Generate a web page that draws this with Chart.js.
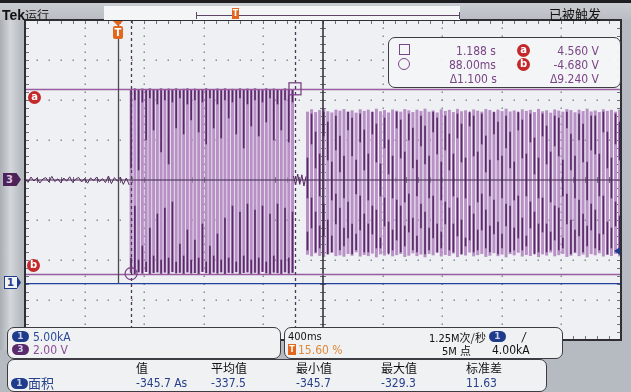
<!DOCTYPE html>
<html>
<head>
<meta charset="utf-8">
<script src="https://cdn.jsdelivr.net/npm/chart.js@4"></script>
<style>
body{margin:0;width:631px;height:392px;overflow:hidden;background:#b6bac1;position:relative;
  font-family:"Liberation Sans Narrow","DejaVu Sans Condensed","Liberation Sans","Noto Sans CJK SC",sans-serif;font-size:12px}
#scope{position:absolute;left:0;top:0}
.abs{position:absolute;white-space:nowrap;line-height:12px}
.box{position:absolute;border:1.5px solid #3c3c42;border-radius:7px;background:#f0f1f3;box-sizing:border-box}
.pill{position:absolute;width:17px;height:11px;border-radius:6px;color:#c9d0ea;font:bold 9px "DejaVu Sans",sans-serif;text-align:center;line-height:11px}
.red{position:absolute;width:13px;height:13px;border-radius:50%;background:#c4282b;color:#fff;font:bold 10px "DejaVu Sans",sans-serif;text-align:center;line-height:12px}
.r{text-align:right}
.cjk{font-family:"Noto Sans CJK SC",sans-serif}
</style>
</head>
<body>
<div class="abs" style="left:0;top:0;width:631px;height:3px;background:#1e1e20"></div>
<div class="abs" style="left:0;top:3px;width:631px;height:17px;background:linear-gradient(#c9ccd1,#b9bdc3)"></div>
<div class="abs" style="left:0;top:20px;width:23px;height:330px;background:linear-gradient(to right,#a9adb4,#d3d6da 45%,#b3b7be)"></div>
<canvas id="scope" width="631" height="392"></canvas>

<!-- status bar -->
<div class="abs" style="left:2px;top:6px;font:bold 14px 'Liberation Sans',sans-serif;color:#111">Tek<span class="cjk" style="font-size:12px;font-weight:normal;color:#222">运行</span></div>
<div class="abs" style="left:104px;top:6px;width:356px;height:14px;background:#f4f5f7"></div>
<div class="abs" style="left:196px;top:15px;width:264px;height:1px;background:#5d4466"></div>
<div class="abs" style="left:196px;top:12px;width:1px;height:7px;background:#5d4466"></div>
<div class="abs" style="left:459px;top:12px;width:1px;height:7px;background:#5d4466"></div>
<div class="abs" style="left:232px;top:8px;width:7px;height:11px;background:#e2661c;color:#fff;font:bold 8px 'DejaVu Sans',sans-serif;text-align:center;line-height:11px">T</div>
<div class="abs cjk" style="left:549px;top:6px;font-size:13px;line-height:15px;color:#111">已被触发</div>

<!-- cursor readout -->
<div class="box" style="left:388px;top:37px;width:233px;height:51px;background:rgba(243,244,246,0.95);color:#7a4586">
  <div class="abs" style="left:10px;top:6px;width:9px;height:9px;border:1.3px solid #7a4586"></div>
  <div class="abs" style="left:9px;top:20px;width:10px;height:10px;border:1.3px solid #7a4586;border-radius:50%"></div>
  <div class="abs r" style="left:40px;width:67px;top:7px">1.188 s</div>
  <div class="abs r" style="left:40px;width:67px;top:21px">88.00ms</div>
  <div class="abs r" style="left:40px;width:68px;top:35px">Δ1.100 s</div>
  <div class="red" style="left:128px;top:6px">a</div>
  <div class="red" style="left:128px;top:20px">b</div>
  <div class="abs r" style="left:140px;width:70px;top:7px">4.560 V</div>
  <div class="abs r" style="left:140px;width:70px;top:21px">-4.680 V</div>
  <div class="abs r" style="left:140px;width:70px;top:35px">Δ9.240 V</div>
</div>

<!-- channel box -->
<div class="box" style="left:7px;top:327px;width:274px;height:32px">
  <div class="pill" style="left:4px;top:3px;background:#1f3b8c">1</div>
  <div class="abs" style="left:25px;top:3px;color:#2b4a9e">5.00kA</div>
  <div class="pill" style="left:4px;top:16px;background:#5b2a6c">3</div>
  <div class="abs" style="left:25px;top:16px;color:#8b4c98">2.00 V</div>
</div>
<!-- timebase box -->
<div class="box" style="left:284px;top:327px;width:279px;height:32px">
  <div class="abs" style="left:3px;top:3px;font-size:11px;color:#111">400ms</div>
  <div class="abs" style="left:3px;top:16px;width:8px;height:11px;background:#e2661c;color:#fff;font:bold 8px 'DejaVu Sans',sans-serif;text-align:center;line-height:11px">T</div>
  <div class="abs" style="left:13px;top:16px;color:#e0893a">15.60 %</div>
  <div class="abs" style="left:144px;top:3px;color:#111;font-size:11px">1.25M<span class="cjk">次/秒</span></div>
  <div class="abs" style="left:157px;top:16px;color:#111;font-size:11px">5M <span class="cjk">点</span></div>
  <div class="pill" style="left:204px;top:3px;background:#1f3b8c">1</div>
  <div class="abs" style="left:237px;top:3px;color:#111;font-style:italic">/</div>
  <div class="abs" style="left:207px;top:16px;color:#111">4.00kA</div>
</div>
<!-- measurement box -->
<div class="box" style="left:7px;top:359px;width:540px;height:33px">
  <div class="abs cjk" style="left:128px;top:2px;color:#111">值</div>
  <div class="abs cjk" style="left:203px;top:2px;color:#111">平均值</div>
  <div class="abs cjk" style="left:288px;top:2px;color:#111">最小值</div>
  <div class="abs cjk" style="left:373px;top:2px;color:#111">最大值</div>
  <div class="abs cjk" style="left:458px;top:2px;color:#111">标准差</div>
  <div class="pill" style="left:3px;top:18px;background:#1f3b8c">1</div>
  <div class="abs cjk" style="left:20px;top:16px;color:#27408b;font-size:13px;line-height:14px">面积</div>
  <div class="abs" style="left:128px;top:17px;color:#27408b">-345.7 As</div>
  <div class="abs" style="left:203px;top:17px;color:#27408b">-337.5</div>
  <div class="abs" style="left:288px;top:17px;color:#27408b">-345.7</div>
  <div class="abs" style="left:373px;top:17px;color:#27408b">-329.3</div>
  <div class="abs" style="left:458px;top:17px;color:#27408b">11.63</div>
</div>

<div id="marks"></div>

<script>
// screen: 10 divisions x 400 ms, trigger at 15.6 %
var timeMin = -0.624, timeMax = 3.376;
var voltMin = -8, voltMax = 8;          // ch3, 2 V/div
var ch1Min = -7.125, ch1Max = 32.875;   // ch1, 5 kA/div, offset -2.575 div

var cursorA = 4.56, cursorB = -4.68;
var cursorT1 = 0.088, cursorT2 = 1.188;
var trigLevel = 4.0;

// ch3 noise before the first burst (20 ms steps)
var preStart = -0.624, preStep = 0.02;
var preNoise = [0.08,-0.12,0.15,-0.05,0.10,-0.15,0.05,0.12,-0.10,0.18,
  -0.08,0.06,-0.14,0.10,-0.06,0.16,-0.12,0.04,0.13,-0.10,
  0.08,-0.16,0.11,-0.04,0.14,-0.09,0.07,-0.13,0.20,-0.18,
  0.12,-0.06,0.15,-0.22,0.10,-0.25];

// ch3 noise in the gap between bursts
var gapStart = 1.178, gapStep = 0.014;
var gapNoise = [0.20,-0.25,0.30,-0.22,0.26,-0.30,0.18];

// burst 1: peak of each stroke, and the dark part of each stroke
var burst1Start = 0.088, burst1Step = 0.0252;
var burst1High = [4.52,4.56,4.50,4.55,4.48,4.56,4.53,4.50,4.56,4.49,
  4.55,4.52,4.56,4.47,4.54,4.56,4.50,4.55,4.52,4.49,
  4.56,4.53,4.50,4.55,4.48,4.56,4.52,4.54,4.50,4.56,
  4.49,4.55,4.53,4.56,4.50,4.52,4.56,4.48,4.55,4.53,
  4.50,4.56,4.52,4.49];
var burst1Low = [-4.62,-4.68,-4.60,-4.66,-4.58,-4.68,-4.63,-4.60,-4.67,-4.61,
  -4.68,-4.59,-4.65,-4.62,-4.68,-4.60,-4.66,-4.63,-4.68,-4.58,
  -4.64,-4.68,-4.61,-4.66,-4.60,-4.68,-4.62,-4.65,-4.59,-4.68,
  -4.63,-4.60,-4.67,-4.62,-4.68,-4.58,-4.65,-4.68,-4.61,-4.64,
  -4.68,-4.60,-4.66,-4.62];
var burst1DarkUp = [0.6,4.0,0.5,3.9,2.0,4.1,2.5,3.8,1.4,4.0,
  0.8,3.9,2.6,4.1,2.3,3.8,3.0,4.0,2.4,3.9,
  1.8,4.1,2.6,3.8,2.1,4.0,3.1,3.9,2.3,4.1,
  1.6,3.8,2.7,4.0,2.2,3.9,2.9,4.1,2.0,3.8,
  2.5,4.0,1.9,3.9];
var burst1DarkDown = [-3.9,-1.3,-4.0,-3.3,-4.1,-2.4,-3.8,-1.7,-4.0,-1.4,
  -3.9,-1.1,-4.1,-3.2,-3.8,-2.5,-4.0,-3.0,-3.9,-2.2,
  -4.1,-3.3,-3.8,-2.7,-4.0,-1.9,-3.9,-1.3,-4.1,-1.6,
  -3.8,-1.2,-4.0,-1.5,-3.9,-1.3,-4.1,-1.7,-3.8,-1.2,
  -4.0,-1.4,-3.9,-1.6];

// burst 2
var burst2Start = 1.272, burst2Step = 0.0272;
var burst2High = [3.40,3.52,3.38,3.48,3.55,3.42,3.36,3.50,3.45,3.53,
  3.40,3.47,3.35,3.52,3.44,3.50,3.38,3.55,3.42,3.48,
  3.36,3.51,3.45,3.40,3.53,3.47,3.38,3.50,3.43,3.55,
  3.40,3.46,3.36,3.52,3.44,3.49,3.38,3.54,3.42,3.47,
  3.35,3.51,3.45,3.40,3.53,3.48,3.37,3.50,3.43,3.55,
  3.41,3.46,3.36,3.52,3.44,3.49,3.38,3.54,3.42,3.47,
  3.35,3.51,3.45,3.40,3.53,3.48,3.37,3.50,3.43,3.55,
  3.41,3.46,3.38,3.52,3.44,3.49,3.40,3.50];
var burst2Low = [-3.72,-3.80,-3.65,-3.78,-3.84,-3.70,-3.62,-3.79,-3.75,-3.82,
  -3.68,-3.77,-3.60,-3.81,-3.73,-3.79,-3.66,-3.85,-3.70,-3.76,
  -3.63,-3.80,-3.74,-3.68,-3.83,-3.77,-3.65,-3.79,-3.71,-3.85,
  -3.68,-3.75,-3.62,-3.81,-3.73,-3.78,-3.66,-3.84,-3.70,-3.76,
  -3.61,-3.80,-3.74,-3.68,-3.83,-3.77,-3.64,-3.79,-3.71,-3.85,
  -3.69,-3.75,-3.62,-3.81,-3.73,-3.78,-3.66,-3.84,-3.70,-3.76,
  -3.61,-3.80,-3.74,-3.68,-3.83,-3.77,-3.64,-3.79,-3.71,-3.85,
  -3.69,-3.75,-3.65,-3.81,-3.73,-3.78,-3.68,-3.80];
var burst2DarkUpLo = [-0.9,1.8,0.6,-0.8,2.2,1.0,-1.0,1.5,0.4,-0.9,2.5,1.2,-0.7,1.9,0.5,
  -1.0,2.3,0.9,-0.8,1.6,0.3,-0.9,2.6,1.1,-1.1,2.0,0.6,-0.8,1.7,0.8,
  -0.9,2.4,1.3,-1.0,1.5,0.5,-0.8,2.1,0.9,-0.9,2.7,1.2,-1.1,1.8,0.4,
  -0.8,2.3,1.0,-0.9,1.6,0.6,-1.0,2.5,1.1,-0.8,1.9,0.3,-0.9,2.2,0.8,
  -1.1,1.7,1.2,-0.8,2.6,0.5,-0.9,2.0,0.9,-1.0,1.5,1.3,-0.8,2.4,0.6,
  -0.9,1.8,1.0];
var burst2DarkUpHi = [1.1,3.3,2.4,1.3,3.4,2.9,0.9,3.2,2.2,1.2,3.4,3.1,1.0,3.3,2.5,
  1.3,3.4,2.8,0.8,3.1,2.0,1.2,3.4,3.0,1.4,3.3,2.6,1.0,3.2,2.7,
  1.2,3.4,3.1,0.9,3.2,2.3,1.3,3.3,2.8,1.1,3.4,3.2,1.4,3.3,2.2,
  1.0,3.4,2.9,1.2,3.2,2.4,0.9,3.4,3.0,1.3,3.3,2.1,1.1,3.3,2.7,
  1.4,3.2,3.1,1.0,3.4,2.3,1.2,3.3,2.8,0.9,3.2,3.2,1.3,3.4,2.4,
  1.1,3.3,2.9];
var burst2DarkDnLo = [-3.5,-2.4,-3.6,-3.4,-2.8,-3.7,-3.6,-2.2,-3.5,-3.3,-2.9,-3.7,-3.5,-2.5,-3.6,
  -3.6,-2.7,-3.4,-3.4,-2.3,-3.7,-3.5,-3.0,-3.6,-3.3,-2.6,-3.5,-3.6,-2.4,-3.7,
  -3.5,-2.9,-3.6,-3.4,-2.2,-3.5,-3.6,-2.8,-3.7,-3.3,-3.0,-3.6,-3.5,-2.5,-3.4,
  -3.6,-2.7,-3.7,-3.4,-2.3,-3.6,-3.5,-2.9,-3.5,-3.3,-2.4,-3.7,-3.6,-2.6,-3.6,
  -3.5,-3.0,-3.5,-3.4,-2.2,-3.7,-3.6,-2.8,-3.6,-3.3,-2.5,-3.4,-3.5,-2.7,-3.7,
  -3.4,-2.3,-3.6];
var burst2DarkDnHi = [-2.6,-0.9,-1.6,-2.3,-1.2,-2.0,-2.8,-0.7,-1.4,-2.4,-1.1,-2.2,-2.7,-0.8,-1.7,
  -2.2,-1.3,-1.5,-2.9,-0.9,-2.1,-2.5,-1.0,-1.3,-2.3,-0.7,-1.9,-2.8,-1.2,-1.6,
  -2.4,-0.8,-2.2,-2.6,-1.1,-1.4,-2.2,-0.9,-2.0,-2.9,-1.3,-1.7,-2.5,-0.7,-1.5,
  -2.3,-1.0,-2.1,-2.7,-1.2,-1.3,-2.4,-0.8,-1.9,-2.8,-1.1,-1.6,-2.2,-0.9,-2.2,
  -2.6,-1.3,-1.4,-2.9,-0.7,-2.0,-2.5,-1.0,-1.7,-2.3,-1.2,-1.5,-2.7,-0.8,-2.1,
  -2.4,-1.1,-1.8];

// ch1 current (kA), one reading per division
var ch1Start = -0.624, ch1Step = 0.4;
var ch1Current = [-0.08,-0.09,-0.09,-0.08,-0.09,-0.09,-0.08,-0.09,-0.09,-0.08,-0.09];

function points(start, step, vals) {
  return vals.map(function (v, i) { return {x: start + i * step, y: v}; });
}
function ranges(start, step, lo, hi) {
  return lo.map(function (v, i) { return {x: start + i * step, y: [v, hi[i]]}; });
}

var lightPurple = '#b890c6', darkPurple = '#5a2a69';

var envelope = ranges(burst1Start, burst1Step, burst1Low, burst1High)
  .concat(ranges(burst2Start, burst2Step, burst2Low, burst2High));
var darkUp = ranges(burst1Start, burst1Step, burst1DarkUp, burst1High)
  .concat(ranges(burst2Start, burst2Step, burst2DarkUpLo, burst2DarkUpHi));
var darkDown = ranges(burst1Start, burst1Step, burst1Low, burst1DarkDown)
  .concat(ranges(burst2Start, burst2Step, burst2DarkDnLo, burst2DarkDnHi));

var scopeFrame = {
  id: 'scopeFrame',
  beforeDatasetsDraw: function (chart) {
    var ctx = chart.ctx, a = chart.chartArea;
    var dx = (a.right - a.left) / 10, dy = (a.bottom - a.top) / 8;
    var cx = a.left + 5 * dx, cy = a.top + 4 * dy;
    ctx.save();
    ctx.fillStyle = '#eef0f3';
    ctx.fillRect(a.left, a.top, a.right - a.left, a.bottom - a.top);
    ctx.fillStyle = '#878c95';
    for (var i = 1; i < 10; i++) {
      if (i === 5) continue;
      for (var k = 0; k <= 40; k++) ctx.fillRect(Math.round(a.left + i * dx) - 0.5, Math.round(a.top + k * dy / 5) - 0.5, 1.5, 1.5);
    }
    for (var j = 1; j < 8; j++) {
      if (j === 4) continue;
      for (var m = 0; m <= 50; m++) ctx.fillRect(Math.round(a.left + m * dx / 5) - 0.5, Math.round(a.top + j * dy) - 0.5, 1.5, 1.5);
    }
    // ticks on the centre lines and edges
    ctx.strokeStyle = '#6d7179';
    ctx.lineWidth = 1;
    ctx.beginPath();
    for (var k2 = 0; k2 <= 40; k2++) {
      var yy = Math.round(a.top + k2 * dy / 5) + 0.5;
      ctx.moveTo(cx - 3, yy); ctx.lineTo(cx + 3, yy);
      ctx.moveTo(a.left, yy); ctx.lineTo(a.left + 4, yy);
      ctx.moveTo(a.right, yy); ctx.lineTo(a.right - 4, yy);
    }
    for (var m2 = 0; m2 <= 50; m2++) {
      var xx = Math.round(a.left + m2 * dx / 5) + 0.5;
      ctx.moveTo(xx, cy - 3); ctx.lineTo(xx, cy + 3);
      ctx.moveTo(xx, a.top); ctx.lineTo(xx, a.top + 4);
      ctx.moveTo(xx, a.bottom); ctx.lineTo(xx, a.bottom - 4);
    }
    ctx.stroke();
    ctx.restore();
  },
  afterDatasetsDraw: function (chart) {
    var ctx = chart.ctx, a = chart.chartArea, x = chart.scales.x, y = chart.scales.y, y1 = chart.scales.y1;
    var dx = (a.right - a.left) / 10;
    var cx = a.left + 5 * dx;
    ctx.save();
    // centre lines
    ctx.strokeStyle = '#2f2a33';
    ctx.lineWidth = 1.5;
    ctx.beginPath();
    ctx.moveTo(Math.round(cx), a.top); ctx.lineTo(Math.round(cx), a.bottom);
    ctx.stroke();
    ctx.strokeStyle = '#3e2748';
    ctx.lineWidth = 1.2;
    ctx.beginPath();
    ctx.moveTo(a.left, y.getPixelForValue(0)); ctx.lineTo(a.right, y.getPixelForValue(0));
    ctx.stroke();
    // voltage cursors a / b
    ctx.strokeStyle = '#9b5ba1';
    ctx.lineWidth = 1.3;
    ctx.beginPath();
    [cursorA, cursorB].forEach(function (v) {
      var p = Math.round(y.getPixelForValue(v)) + 0.5;
      ctx.moveTo(a.left, p); ctx.lineTo(a.right, p);
    });
    ctx.stroke();
    // trigger position line
    var tx = Math.round(x.getPixelForValue(0)) + 0.5;
    ctx.strokeStyle = '#4a4a50';
    ctx.lineWidth = 1.3;
    ctx.beginPath();
    ctx.moveTo(tx, a.top); ctx.lineTo(tx, y1.getPixelForValue(0));
    ctx.stroke();
    // time cursors
    ctx.strokeStyle = '#4c3856';
    ctx.lineWidth = 1.3;
    ctx.setLineDash([3, 3]);
    ctx.beginPath();
    [cursorT1, cursorT2].forEach(function (t) {
      var p = Math.round(x.getPixelForValue(t)) + 0.5;
      ctx.moveTo(p, a.top); ctx.lineTo(p, a.bottom);
    });
    ctx.stroke();
    ctx.setLineDash([]);
    ctx.strokeStyle = '#7a4586';
    ctx.lineWidth = 1.3;
    ctx.beginPath();
    ctx.arc(x.getPixelForValue(cursorT1), y.getPixelForValue(cursorB), 6, 0, Math.PI * 2);
    ctx.stroke();
    ctx.strokeRect(x.getPixelForValue(cursorT2) - 6, y.getPixelForValue(cursorA) - 6, 12, 12);
    // trigger level arrow (ch1)
    var ty = y1.getPixelForValue(trigLevel);
    ctx.fillStyle = '#1f3b8c';
    ctx.beginPath();
    ctx.moveTo(a.right - 1, ty - 4); ctx.lineTo(a.right - 7, ty); ctx.lineTo(a.right - 1, ty + 4);
    ctx.closePath(); ctx.fill();
    // screen border
    ctx.strokeStyle = '#2e2e33';
    ctx.lineWidth = 2;
    ctx.strokeRect(a.left, a.top, a.right - a.left, a.bottom - a.top);
    ctx.restore();
  }
};

var chart = new Chart(document.getElementById('scope'), {
  type: 'bar',
  data: {
    datasets: [
      {type: 'line', label: 'ch1', data: points(ch1Start, ch1Step, ch1Current), yAxisID: 'y1',
        borderColor: '#24409a', borderWidth: 1.3, pointRadius: 0, order: 0},
      {type: 'line', label: 'ch3 pre', data: points(preStart, preStep, preNoise),
        borderColor: '#5a2768', borderWidth: 1, pointRadius: 0, order: 0},
      {type: 'line', label: 'ch3 gap', data: points(gapStart, gapStep, gapNoise),
        borderColor: '#5a2768', borderWidth: 1, pointRadius: 0, order: 0},
      {label: 'dark up', data: darkUp, backgroundColor: darkPurple, barThickness: 1, grouped: false, order: 1},
      {label: 'dark down', data: darkDown, backgroundColor: darkPurple, barThickness: 1, grouped: false, order: 1},
      {label: 'ch3', data: envelope, backgroundColor: lightPurple, barThickness: 2.3, grouped: false, order: 2}
    ]
  },
  options: {
    responsive: false,
    animation: false,
    events: [],
    layout: {padding: {left: 25, top: 20, right: 10, bottom: 52}},
    plugins: {legend: {display: false}, tooltip: {enabled: false}},
    scales: {
      x: {type: 'linear', min: timeMin, max: timeMax, offset: false, display: false},
      y: {min: voltMin, max: voltMax, display: false},
      y1: {min: ch1Min, max: ch1Max, display: false}
    }
  },
  plugins: [scopeFrame]
});

// markers placed from the chart scales
var sx = chart.scales.x, sy = chart.scales.y, sy1 = chart.scales.y1;
var marks = document.getElementById('marks');
function mark(html) { marks.insertAdjacentHTML('beforeend', html); }
var t0 = sx.getPixelForValue(0);
mark('<div class="abs" style="left:' + (t0 - 5) + 'px;top:21px;width:0;height:0;border-left:5px solid transparent;border-right:5px solid transparent;border-top:5px solid #e2661c"></div>');
mark('<div class="abs" style="left:' + (t0 - 5) + 'px;top:26px;width:10px;height:13px;border-radius:2px;background:#e2661c;color:#fff;font:bold 10px \'DejaVu Sans\',sans-serif;text-align:center;line-height:13px">T</div>');
mark('<div class="red" style="left:28px;top:' + (sy.getPixelForValue(cursorA) + 2) + 'px">a</div>');
mark('<div class="red" style="left:27px;top:' + (sy.getPixelForValue(cursorB) - 15) + 'px">b</div>');
var c3 = sy.getPixelForValue(0);
mark('<div class="abs" style="left:3px;top:' + (c3 - 7) + 'px;width:18px;height:13px;background:#4d2159;clip-path:polygon(0 0,75% 0,100% 50%,75% 100%,0 100%);color:#d9c6df;font:bold 10px \'DejaVu Sans\',sans-serif;line-height:13px;text-indent:3px">3</div>');
var c1 = sy1.getPixelForValue(0);
mark('<div class="abs" style="left:4px;top:' + (c1 - 7) + 'px;width:17px;height:13px;background:#1f3b8c;clip-path:polygon(0 0,75% 0,100% 50%,75% 100%,0 100%)"></div>');
mark('<div class="abs" style="left:5px;top:' + (c1 - 6) + 'px;width:12px;height:11px;background:#f4f5f7;color:#1f3b8c;font:bold 10px \'DejaVu Sans\',sans-serif;line-height:11px;text-indent:2px">1</div>');
</script>
</body>
</html>
